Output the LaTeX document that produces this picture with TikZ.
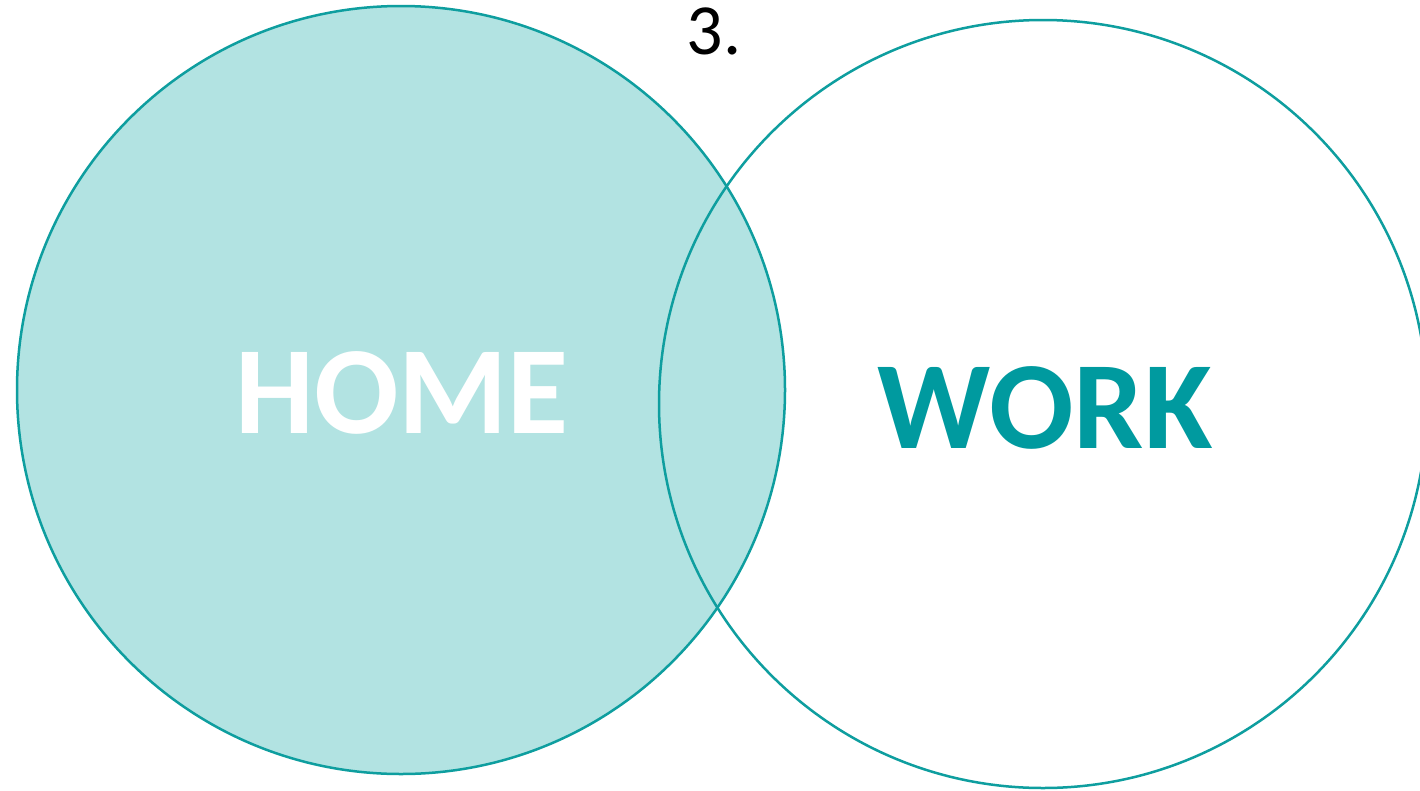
\documentclass[tikz,border=0pt]{standalone}
\usepackage{fontspec}
\setmainfont{Carlito}
\definecolor{teal1}{HTML}{0E9E9F}
\definecolor{tealfill}{HTML}{B2E3E2}
\definecolor{tealtext}{HTML}{009A9F}
\tikzset{
  ring/.style={draw=teal1, line width=2.5pt},
  bigword/.style={font=\fontsize{125}{125}\selectfont\bfseries, inner sep=0pt, anchor=center},
}
\begin{document}
\begin{tikzpicture}[x=1pt,y=-1pt]
\useasboundingbox (0,0) rectangle (1420,790);
\clip (0,0) rectangle (1420,790);
\fill[white] (0,0) rectangle (1420,790);
\path[fill=tealfill] (401,390) circle[radius=384];
\draw[ring] (401,390) circle[radius=384];
\draw[ring] (1043,404) circle[radius=384];
\node[bigword, text=white] (home) at (402,393) {HOME};
\node[bigword, text=tealtext] (work) at (1045,408) {WORK};
\node[font=\fontsize{72}{72}\selectfont, inner sep=0pt, anchor=center] (num) at (714,31) {3.};
\end{tikzpicture}
\end{document}
